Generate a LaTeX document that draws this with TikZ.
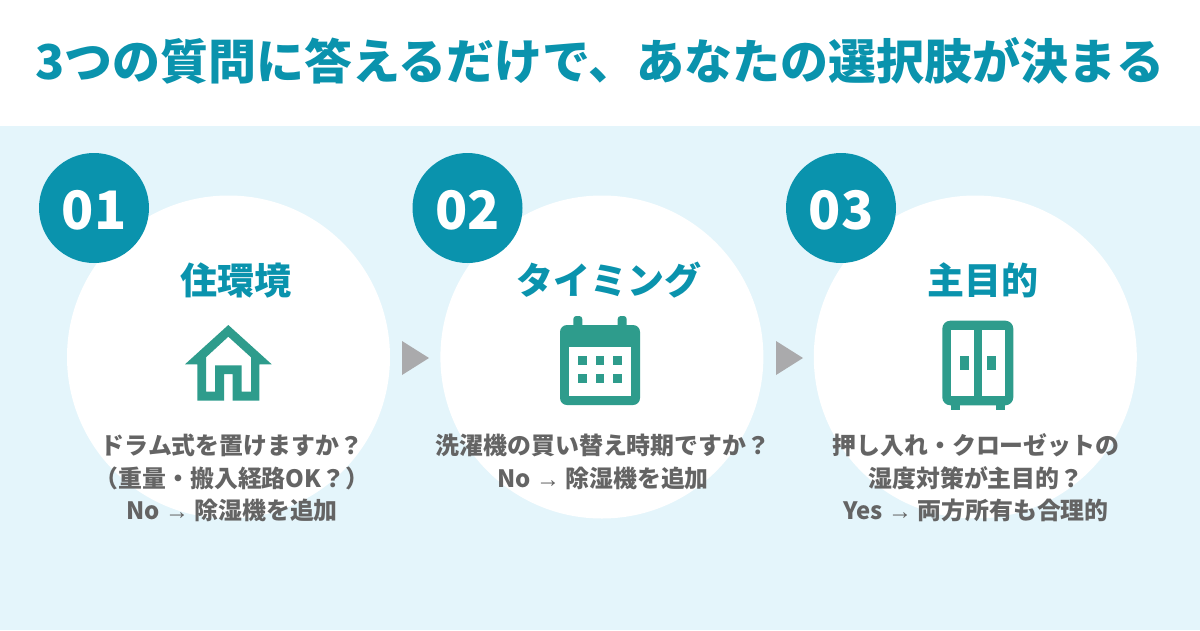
\documentclass[tikz,border=0pt]{standalone}
\usepackage{fontspec}
\usetikzlibrary{positioning}
\setmainfont{Noto Sans CJK JP}
\newfontfamily\arrowfont{Liberation Sans}
\definecolor{teal1}{RGB}{10,147,173}
\definecolor{iconteal}{RGB}{46,156,140}
\definecolor{skyband}{RGB}{228,245,251}
\definecolor{bodygray}{RGB}{100,100,100}
\definecolor{arrowgray}{RGB}{170,170,172}

\begin{document}
\begin{tikzpicture}[x=1pt,y=-1pt,
        stepnode/.style={circle, fill=white, inner sep=0pt, minimum size=323pt},
        badgenode/.style={circle, fill=teal1, text=white, inner sep=0pt, minimum size=110pt},
        numnode/.style={text=white, inner sep=0pt, font=\fontsize{53}{53}\selectfont\bfseries},
        headnode/.style={text=teal1, inner sep=0pt, font=\fontsize{37}{37}\selectfont\bfseries},
        bodynode/.style={text=bodygray, inner sep=0pt, align=center, font=\fontsize{23.9}{32.5}\selectfont\bfseries},
        arrowtri/.style={fill=arrowgray},
        icon/.style={fill=iconteal, even odd rule}]
        \useasboundingbox (0,0) rectangle (1200,630);
        \fill[white] (0,0) rectangle (1200,126);
        \fill[skyband] (0,126) rectangle (1200,630);
        \node[text=teal1, inner sep=0pt, font=\fontsize{48}{48}\selectfont\bfseries] (title) at (600,61) {3つの質問に答えるだけで、あなたの選択肢が決まる};
        % circles
        \node[stepnode] (step1) at (228.5,357) {};
        \node[stepnode] (step2) [right=50pt of step1] {};
        \node[stepnode] (step3) [right=50pt of step2] {};
        \node[badgenode] (badge1) at (94,208) {};
        \node[badgenode] (badge2) at (467.5,208) {};
        \node[badgenode] (badge3) at (841,208) {};
        \node[numnode] (num1) at (94,210) {01};
        \node[numnode] (num2) at (467.5,210) {02};
        \node[numnode] (num3) at (841,210) {03};
        \node[headnode] (head1) at (236,280) {住環境};
        \node[headnode] (head2) at (609,280) {タイミング};
        \node[headnode] (head3) at (983,280) {主目的};
        % arrows
        \fill[arrowtri] (402,341) -- (429,358) -- (402,375) -- cycle;
        \fill[arrowtri] (776,341) -- (803,358) -- (776,375) -- cycle;
        % house
        \fill[icon] (228.3,325) -- (271.7,364.3) -- (259.3,364.3) -- (259.3,400.7) -- (232.7,400.7) -- (232.7,374) -- (224,374) -- (224,400.7) -- (197.3,400.7) -- (197.3,364.3) -- (185,364.3) -- cycle
            (228.3,336.7) -- (251,357.3) -- (251,391.7) -- (241.7,391.7) -- (241.7,365.3) -- (215,365.3) -- (215,391.7) -- (206,391.7) -- (206,357.3) -- cycle;
        % calendar
        \fill[icon] [rounded corners=7pt] (560,325) rectangle (640,405);
        \fill[white] (569,347) rectangle (631,396.3);
        \fill[iconteal] [rounded corners=3pt] (573.3,330) rectangle (582.3,316);
        \fill[iconteal] [rounded corners=3pt] (617.7,330) rectangle (626.7,316);
        \foreach \x in {578,595.7,613.3}
            \foreach \y in {356,374}
                \fill[iconteal] (\x,\y) rectangle ++(8.7,8.8);
        % wardrobe
        \fill[iconteal] (951.3,400) rectangle (960.3,409.7);
        \fill[iconteal] (996,400) rectangle (1005,409.7);
        \fill[iconteal] [rounded corners=8pt] (942.3,320.7) rectangle (1013.3,405.3);
        \fill[white] (951.3,329.7) rectangle (973.7,396.3);
        \fill[white] (982.3,329.7) rectangle (1005,396.3);
        \fill[iconteal] (960.3,356.3) rectangle (969.3,369.7);
        \fill[iconteal] (987,356.3) rectangle (996,369.7);
        % texts
        \node[bodynode] (text1) at (232,478) {ドラム式を置けますか？\\（重量・搬入経路OK？）\\No {\arrowfont →} 除湿機を追加};
        \node[bodynode] (text2) at (603,462) {洗濯機の買い替え時期ですか？\\No {\arrowfont →} 除湿機を追加};
        \node[bodynode] (text3) at (976,478) {押し入れ・クローゼットの\\湿度対策が主目的？\\Yes {\arrowfont →} 両方所有も合理的};
\end{tikzpicture}
\end{document}
